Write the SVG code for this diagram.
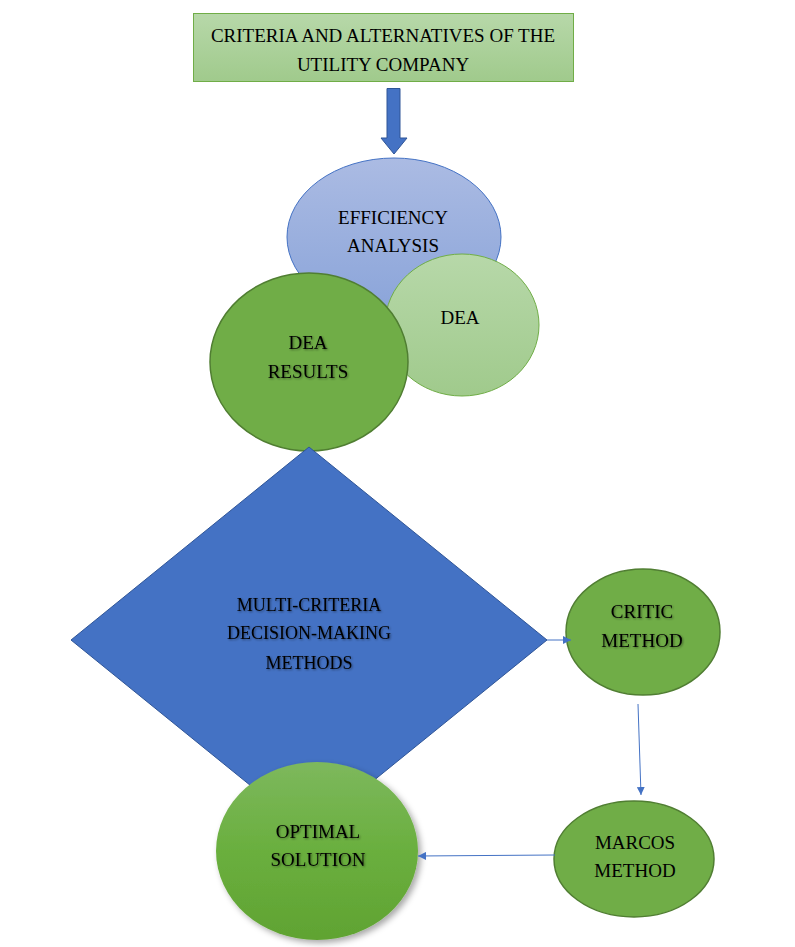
<svg xmlns="http://www.w3.org/2000/svg" width="795" height="947" viewBox="0 0 795 947">
<defs>
<linearGradient id="gLight" x1="0" y1="0" x2="0" y2="1"><stop offset="0" stop-color="#b7d8a9"/><stop offset="1" stop-color="#a0ca8c"/></linearGradient>
<linearGradient id="gBlue" x1="0" y1="0" x2="0" y2="1"><stop offset="0" stop-color="#abbbe3"/><stop offset="1" stop-color="#8aa4d9"/></linearGradient>
<linearGradient id="gOpt" x1="0" y1="0" x2="0" y2="1"><stop offset="0" stop-color="#7db85d"/><stop offset="0.5" stop-color="#6aaf3e"/><stop offset="1" stop-color="#60a332"/></linearGradient>
<filter id="shadow" x="-20%" y="-20%" width="140%" height="140%"><feDropShadow dx="3" dy="3" stdDeviation="3" flood-color="#000" flood-opacity="0.35"/></filter>
<filter id="tshadow" x="-10%" y="-30%" width="120%" height="160%"><feDropShadow dx="1" dy="1" stdDeviation="1" flood-color="#000" flood-opacity="0.45"/></filter>
<marker id="arr" viewBox="0 0 10 10" refX="10" refY="5" markerWidth="8" markerHeight="8" markerUnits="userSpaceOnUse" orient="auto"><path d="M0,0 L10,5 L0,10 z" fill="#4472c4"/></marker>
</defs>
<style>
text{font-family:'Liberation Serif','DejaVu Serif',serif;font-size:19px;fill:#000;text-anchor:middle}
.sh{filter:url(#tshadow)}
.sm{font-size:18px}
.conn{stroke:#4472c4;stroke-width:1;fill:none}
.green{fill:#70ad47;stroke:#507e32;stroke-width:1.5}
</style>
<g id="criteria">
<rect x="193.5" y="13.5" width="380" height="68" fill="url(#gLight)" stroke="#70ad47" stroke-width="1"/>
<text x="383" y="42" font-family="Liberation Serif, serif">CRITERIA AND ALTERNATIVES OF THE</text>
<text x="383" y="71" font-family="Liberation Serif, serif">UTILITY COMPANY</text>
</g>
<g id="block-arrow">
<path d="M387,88.5 H400 V138 H407 L394,154 L381,138 H387 Z" fill="#4472c4" stroke="#2f5597" stroke-width="1"/>
</g>
<g id="efficiency">
<ellipse cx="394" cy="237" rx="107" ry="79" fill="url(#gBlue)" stroke="#4472c4" stroke-width="1"/>
<text x="393" y="224">EFFICIENCY</text>
<text x="393" y="252">ANALYSIS</text>
</g>
<g id="dea">
<ellipse cx="462" cy="325" rx="77" ry="71" fill="url(#gLight)" stroke="#70ad47" stroke-width="1"/>
<text x="460" y="324">DEA</text>
</g>
<g id="dea-results">
<ellipse cx="309" cy="362" rx="99" ry="89" class="green"/>
<text x="308" y="349" class="sh">DEA</text>
<text x="308" y="378" class="sh">RESULTS</text>
</g>
<g id="mcdm">
<polygon points="309,447 547,640 309,833 71,640" fill="#4472c4" stroke="#2f5597" stroke-width="1"/>
<text x="309" y="611" class="sh sm">MULTI-CRITERIA</text>
<text x="309" y="639" class="sh sm">DECISION-MAKING</text>
<text x="309" y="669" class="sh sm">METHODS</text>
</g>
<g id="critic">
<ellipse cx="643" cy="632" rx="77" ry="63" class="green"/>
<text x="642" y="618" class="sh">CRITIC</text>
<text x="642" y="647" class="sh">METHOD</text>
</g>
<g id="marcos">
<ellipse cx="634" cy="859" rx="80" ry="58" class="green"/>
<text x="635" y="849">MARCOS</text>
<text x="635" y="877">METHOD</text>
</g>
<g id="optimal">
<ellipse cx="317" cy="851" rx="101" ry="89" fill="url(#gOpt)" filter="url(#shadow)"/>
<text x="318" y="838" class="sh">OPTIMAL</text>
<text x="318" y="866" class="sh">SOLUTION</text>
</g>
<g id="connectors">
<line x1="547" y1="640" x2="571" y2="640" class="conn" marker-end="url(#arr)"/>
<line x1="638" y1="704" x2="641" y2="795" class="conn" marker-end="url(#arr)"/>
<line x1="555" y1="855" x2="418" y2="856" class="conn" marker-end="url(#arr)"/>
</g>
</svg>
